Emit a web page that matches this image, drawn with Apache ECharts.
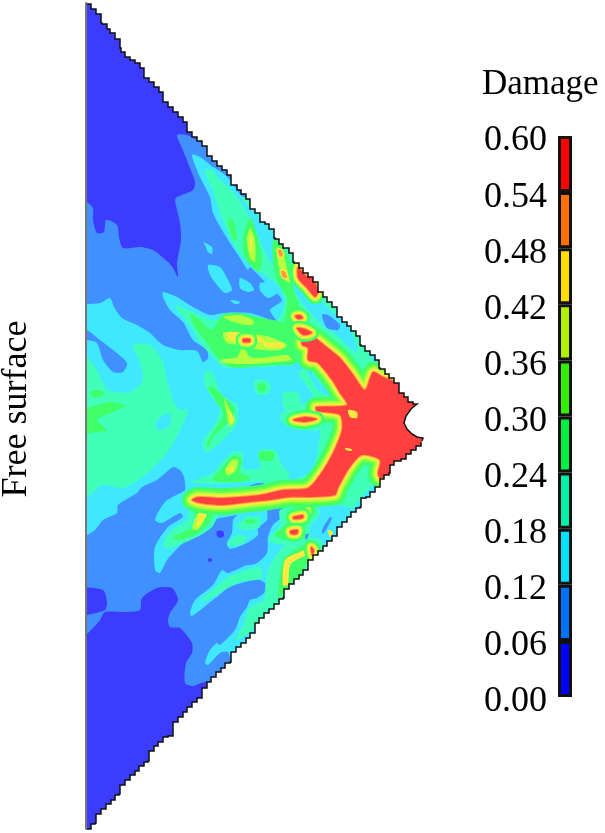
<!DOCTYPE html>
<html>
<head>
<meta charset="utf-8">
<title>Damage contour</title>
<script src="https://cdn.jsdelivr.net/npm/echarts@6/dist/echarts.min.js"></script>
<style>
html, body { margin: 0; padding: 0; background: #fff; }
#chart { width: 605px; height: 833px; }
</style>
</head>
<body>
<div id="chart"></div>
<script>
// legend levels, 0.00 - 0.60 in steps of 0.06
const damageStep = 0.06;
const legendColors = ['#0000ff', '#0070ff', '#00e0ff', '#00f0a8', '#00f040', '#30f000', '#b0f000', '#ffdd00', '#ff7000', '#ff0000'];
const fieldColors = ['#3c3cff', '#4090ff', '#40e8ff', '#40ffb8', '#40ff68', '#70ff40', '#b4ff40', '#ffe840', '#ff9840', '#ff4040'];

// mesh boundary, stair corners
const edgeUpper = [[87,4],[91,4],[96,9],[101,14],[102,23],[107,24],[110,29],[115,33],[120,39],[121,48],[125,52],[130,57],[135,60],[140,63],[144,68],[144,77],[149,78],[154,82],[159,87],[163,92],[163,102],[168,102],[173,107],[178,112],[183,117],[187,122],[187,131],[192,132],[197,137],[202,141],[207,146],[207,155],[212,156],[217,161],[222,166],[227,170],[231,175],[231,184],[237,185],[241,190],[246,194],[250,199],[250,208],[255,209],[260,213],[265,222],[269,224],[274,229],[275,238],[279,239],[283,244],[289,248],[293,253],[294,262],[299,263],[303,268],[308,273],[313,277],[318,282],[318,292],[323,292],[327,297],[332,302],[337,307],[337,317],[342,317],[347,322],[351,326],[356,331],[360,336],[361,345],[365,346],[370,351],[375,355],[379,360],[380,368],[385,369],[389,374],[394,378],[399,383],[399,393],[404,393],[408,397],[413,402],[417,404]];
const notchEdge = [[411,409],[406,416],[404,423],[407,429],[412,434],[417,437],[423,438],[422,441]];
const edgeLower = [[421,442],[416,446],[411,450],[406,454],[401,459],[394,461],[390,465],[389,473],[384,475],[380,479],[375,487],[370,492],[366,497],[361,498],[360,507],[356,508],[351,512],[347,517],[342,522],[337,527],[337,535],[332,536],[327,541],[323,546],[318,551],[313,555],[308,560],[308,569],[303,570],[299,575],[294,579],[289,584],[284,589],[283,598],[279,599],[274,604],[269,609],[264,613],[259,618],[255,623],[255,632],[250,633],[246,638],[241,643],[236,647],[231,652],[230,662],[225,663],[221,668],[216,672],[211,677],[207,682],[202,688],[202,697],[197,698],[192,702],[187,707],[183,712],[178,717],[173,722],[173,732],[168,736],[163,737],[158,742],[154,746],[149,751],[148,761],[144,762],[139,766],[135,771],[130,775],[125,780],[120,785],[119,794],[115,795],[111,800],[106,804],[101,809],[96,814],[95,823],[91,824],[91,829],[87,829]];

// contour regions, in mesh coordinates
const regionsBand1 = [
  [[80,0],[290,0],[290,226],[270,228],[262,222],[255,212],[245,203],[237,190],[227,177],[213,167],[200,157],[192,155],[200,177],[210,197],[213,213],[222,230],[230,243],[240,258],[248,270],[250,267],[263,280],[282,300],[270,310],[277,322],[263,317],[250,313],[223,313],[210,315],[193,307],[177,297],[163,292],[163,297],[170,310],[183,322],[193,340],[207,350],[208,358],[203,362],[197,351],[180,350],[163,345],[150,333],[137,325],[122,318],[114,307],[110,298],[100,303],[87,304],[80,304]],
  [[80,330],[87,330],[100,340],[113,350],[127,363],[123,372],[113,372],[103,360],[97,343],[87,340],[80,340]],
  [[80,537],[87,535],[95,530],[103,520],[117,513],[118,505],[137,493],[142,487],[157,480],[173,467],[180,470],[184,477],[185,490],[180,493],[165,502],[155,520],[162,523],[180,513],[183,517],[168,527],[155,547],[155,570],[160,573],[167,560],[183,543],[200,530],[212,520],[227,517],[237,515],[233,520],[232,533],[227,543],[230,549],[247,543],[258,535],[258,528],[267,520],[268,508],[287,507],[288,512],[273,525],[268,537],[267,553],[257,563],[250,565],[247,565],[228,573],[222,570],[213,585],[195,600],[190,613],[192,616],[213,600],[230,587],[253,580],[260,580],[267,585],[265,592],[257,598],[250,600],[247,607],[240,617],[235,630],[220,645],[217,643],[210,650],[205,663],[208,665],[220,653],[228,652],[232,670],[200,720],[80,835]],
  [[213,322],[217,325],[215,327]]
];
const regionsBand0 = [
  [[80,0],[215,0],[215,150],[207,147],[200,142],[187,135],[177,135],[182,148],[188,163],[195,182],[193,190],[177,197],[175,200],[180,223],[181,240],[177,263],[178,277],[173,268],[168,262],[153,250],[140,247],[123,248],[119,237],[117,225],[106,220],[104,232],[97,233],[93,220],[93,208],[87,202],[80,200]],
  [[80,589],[103,590],[107,602],[105,610],[87,615],[80,616]],
  [[80,640],[88,633],[95,626],[100,620],[105,612],[125,612],[140,610],[142,598],[157,588],[172,588],[178,600],[170,613],[168,620],[170,627],[180,628],[192,643],[192,653],[186,663],[185,683],[193,686],[207,682],[220,700],[220,835],[80,835]],
  [[217,531],[223,531],[224,536],[220,538],[217,536]],
  [[208,559],[211,558],[212,561],[209,562]]
];
const blobsBand2 = [
  [[203,242],[212,247],[212,254],[208,252],[205,245]],
  [[208,265],[220,267],[227,278],[232,290],[225,293],[217,285],[210,275]],
  [[240,278],[250,283],[254,290],[248,292],[240,288]],
  [[230,300],[238,301],[240,303],[235,304]],
  [[260,283],[270,283],[277,293],[268,298],[260,290]]
];
const regionsBand3 = [
  [[80,357],[87,357],[97,370],[108,390],[130,392],[143,380],[139,360],[133,345],[150,345],[162,360],[167,380],[173,400],[180,410],[188,410],[180,430],[167,453],[143,477],[123,488],[103,485],[87,497],[80,497]],
  [[205,170],[213,190],[220,213],[227,230],[237,250],[252,265],[265,275],[278,285],[285,300],[282,312],[275,322],[250,322],[225,318],[212,320],[193,312],[175,305],[180,313],[193,330],[200,343],[213,357],[223,367],[250,367],[270,367],[287,363],[305,363],[315,377],[327,390],[333,400],[345,420],[380,380],[300,240],[260,205],[240,195],[225,175]],
  [[205,372],[212,372],[222,395],[237,405],[237,423],[223,440],[207,452],[202,443],[213,427],[220,410],[210,395],[205,385]],
  [[250,503],[270,503],[293,502],[333,500],[347,477],[360,460],[373,458],[382,475],[373,485],[362,497],[353,508],[340,505],[325,505],[300,507],[283,507],[260,510]],
  [[163,545],[170,548],[197,537],[212,527],[220,512],[225,507],[193,506],[187,520],[170,532]],
  [[192,482],[213,473],[222,462],[233,452],[243,453],[243,468],[260,468],[258,452],[275,450],[282,465],[290,475],[285,482],[250,482],[213,484]],
  [[200,602],[227,578],[247,570],[260,567],[262,578],[237,583],[213,597]],
  [[236,640],[245,622],[248,610],[258,603],[272,600],[262,618],[250,632]],
  [[237,527],[247,517],[260,517],[260,527],[247,530]],
  [[227,545],[237,535],[247,538],[240,545]],
  [[280,510],[313,502],[320,513],[310,527],[310,540],[285,545],[268,540],[280,525]],
  [[266,610],[268,570],[285,545],[298,543],[318,538],[325,550],[300,585],[285,600]],
  [[260,488],[275,477],[293,480],[312,470],[318,450],[320,425],[315,405],[345,410],[345,450],[320,490],[270,495]],
  [[280,415],[300,405],[325,405],[325,428],[300,430],[285,425]],
  [[298,373],[305,370],[318,390],[333,400],[330,405],[317,403],[310,390]],
  [[254,381],[268,381],[270,392],[258,395]],
  [[283,393],[298,393],[300,408],[285,410]]
];
const zonesBand2 = [
  [[213,167],[227,177],[237,190],[245,203],[255,212],[262,222],[270,228],[278,240],[281,262],[275,267],[268,258],[262,245],[255,228],[247,213],[238,198],[228,187],[217,177]],
  [[293,285],[303,288],[317,298],[330,310],[345,320],[353,335],[357,352],[350,348],[337,335],[322,325],[308,310],[297,295]],
  [[228,345],[238,345],[238,353],[230,355]],
  [[155,425],[163,415],[170,414],[170,425],[160,430]]
];
const spotsBand1 = [
  [[322,315],[328,315],[340,325],[338,330],[327,328]],
  [[279,332],[282,333],[281,335]],
  [[330,517],[332,518],[326,530],[323,534],[322,530]],
  [[305,535],[309,534],[306,540]],
  [[247,487],[258,483],[265,484],[258,488]]
];
const regionsBand4 = [
  [[87,408],[110,402],[125,406],[113,412],[97,420],[107,430],[90,433],[80,434],[80,408]],
  [[90,392],[100,390],[104,394],[95,398]],
  [[228,220],[233,220],[237,240],[233,240]],
  [[250,217],[257,235],[262,262],[258,272],[245,258],[243,240]],
  [[190,313],[200,320],[212,330],[222,315],[240,313],[262,318],[290,325],[292,345],[298,360],[292,365],[270,365],[235,368],[222,362],[212,350],[205,340],[195,327]],
  [[273,240],[280,243],[288,257],[293,273],[293,287],[297,300],[305,320],[315,335],[292,345],[285,325],[287,298],[278,283],[273,263]],
  [[172,538],[195,525],[195,513],[212,510],[210,522],[195,535],[177,540]],
  [[208,388],[213,387],[227,400],[235,410],[230,420],[213,437],[208,448],[207,443],[217,427],[223,417],[222,410]],
  [[213,480],[222,468],[235,455],[242,460],[240,472],[250,478],[240,482]],
  [[260,452],[273,452],[273,460],[260,460]],
  [[258,384],[265,384],[266,390],[259,391]],
  [[290,510],[313,505],[315,513],[305,525],[305,537],[287,540],[275,535],[287,523]],
  [[278,598],[283,560],[300,547],[313,543],[317,553],[310,560],[297,580],[283,593]],
  [[245,520],[255,520],[255,523],[245,523]]
];
const regionsBand6 = [
  [[250,228],[255,240],[255,262],[250,258],[247,240]],
  [[223,317],[240,315],[253,320],[253,325],[237,323]],
  [[223,333],[240,332],[260,335],[270,337],[287,345],[280,350],[263,350],[250,348],[240,345],[227,343]],
  [[220,360],[237,357],[243,347],[250,357],[260,358],[287,355],[292,360],[277,362],[250,364],[223,363]],
  [[277,247],[283,253],[289,277],[290,283],[283,278],[278,263]],
  [[192,528],[200,510],[208,510],[203,523],[197,530]],
  [[225,470],[232,460],[238,460],[236,470],[228,476]],
  [[224,398],[230,410],[235,420],[230,427],[227,415]],
  [[295,512],[310,507],[311,513],[300,523],[290,525]],
  [[285,530],[300,528],[300,537],[287,537]]
];
const regionsBand7 = [
  [[250,237],[252,237],[252,250],[250,250]],
  [[228,333],[243,333],[260,337],[265,342],[283,343],[283,347],[267,347],[260,342],[243,343],[230,340]],
  [[200,512],[207,512],[202,522],[197,527]],
  [[228,470],[233,466],[233,472]],
  [[283,585],[285,560],[300,552],[312,548],[313,553],[300,558],[290,565],[288,585]],
  [[230,412],[233,418],[231,424]],
  [[328,530],[333,532],[330,537]]
];
const hotCrack = [
  [[302,338],[313,337],[318,340],[328,348],[340,358],[352,373],[365,390],[373,372],[383,377],[440,400],[440,440],[395,475],[380,478],[378,473],[380,460],[362,455],[350,467],[338,488],[335,495],[310,497],[290,497],[270,500],[250,502],[223,505],[200,503],[192,500],[198,497],[223,498],[260,495],[283,490],[308,488],[322,472],[333,453],[342,430],[340,415],[317,411],[316,407],[347,405],[340,393],[332,380],[318,363],[308,360],[308,348],[302,345]]
];
const hotSpots = [
  [[298,267],[305,275],[313,278],[318,292],[315,297],[307,288],[298,278]],
  [[293,420],[305,417],[317,419],[305,422]],
  [[295,316],[300,315],[303,318],[298,319]],
  [[297,328],[305,329],[312,333],[303,335]],
  [[243,339],[250,339],[250,342],[243,342]],
  [[293,517],[303,515],[303,518],[294,519]],
  [[290,531],[298,530],[297,534],[291,534]],
  [[311,547],[314,550],[312,555]]
];
const warmSpots = [
  [[278,250],[281,250],[283,255],[280,257]],
  [[281,271],[285,272],[287,278],[283,277]]
];
// cooler islands left inside the red crack
const islandsBand7 = [
  [[348,410],[357,412],[357,418],[350,417]],
  [[345,448],[352,449],[351,451],[346,450]]
];

const polygons = [];
function addRegions(regions, level, halo) {
  regions.forEach(points => polygons.push({points: points, level: level, halo: halo}));
}
addRegions(regionsBand1, 1);
addRegions(regionsBand0, 0);
addRegions(blobsBand2, 2);
addRegions(regionsBand3, 3);
addRegions(zonesBand2, 2);
addRegions(spotsBand1, 1);
addRegions(regionsBand4, 4);
addRegions(regionsBand6, 6);
addRegions(regionsBand7, 7);
addRegions(hotCrack, 9, [[20, 4], [14, 5], [10, 6], [6, 7], [2, 8]]);
addRegions(hotSpots, 9, [[14, 4], [9, 6], [6, 7], [2, 8]]);
addRegions(warmSpots, 8, [[3, 7]]);
addRegions(islandsBand7, 7);

function stairs(corners) {
  const out = [corners[0]];
  for (let i = 1; i < corners.length; i++) {
    out.push([corners[i - 1][0], corners[i][1]]);
    out.push(corners[i]);
  }
  return out;
}
const stairUpper = stairs(edgeUpper);
const stairLower = stairs(edgeLower);
const meshOutline = stairUpper.concat(notchEdge, stairLower);

const chart = echarts.init(document.getElementById('chart'), null, {renderer: 'canvas'});

function fieldItem(params, api) {
  const outline = meshOutline.map(p => api.coord(p));
  const clip = {type: 'polygon', shape: {points: outline}};
  const item = polygons[api.value(0)];
  const children = [];
  const points = item.points.map(p => api.coord(p));
  (item.halo || []).forEach(h => {
    children.push({
      type: 'polygon',
      shape: {points: points, smooth: 0.25},
      style: {fill: fieldColors[h[1]], stroke: fieldColors[h[1]], lineWidth: h[0], lineJoin: 'round'}
    });
  });
  children.push({
    type: 'polygon',
    shape: {points: points, smooth: 0.25},
    style: {fill: fieldColors[item.level]}
  });
  return {type: 'group', clipPath: clip, children: children};
}

chart.setOption({
  animation: false,
  backgroundColor: '#fff',
  title: {
    text: 'Damage',
    left: 482,
    top: 67,
    padding: 0,
    textStyle: {fontFamily: 'Liberation Serif', fontSize: 35, fontWeight: 'normal', color: '#000'}
  },
  graphic: [{
    type: 'text',
    x: 17,
    y: 409,
    rotation: Math.PI / 2,
    style: {text: 'Free surface', fontFamily: 'Liberation Serif', fontSize: 36, fill: '#000', align: 'center', verticalAlign: 'middle'}
  }],
  grid: [
    {left: 86, top: 3, width: 340, height: 826},
    {left: 558, top: 136, width: 14, height: 561},
    // tick labels sit a little below their bar divisions
    {left: 558, top: 141, width: 14, height: 561}
  ],
  xAxis: [
    {gridIndex: 0, type: 'value', min: 86, max: 426, show: false},
    {gridIndex: 1, type: 'category', data: ['Damage'], show: false},
    {gridIndex: 2, type: 'category', data: ['Damage'], show: false}
  ],
  yAxis: [
    {
      gridIndex: 0, type: 'value', inverse: true, min: 3, max: 829, position: 'left',
      axisLine: {show: true, onZero: false, lineStyle: {color: '#777', width: 2}},
      axisTick: {show: false}, axisLabel: {show: false}, splitLine: {show: false}
    },
    {
      gridIndex: 1, type: 'value', min: 0, max: 0.6, interval: damageStep, show: false
    },
    {
      gridIndex: 2, type: 'value', min: 0, max: 0.6, interval: damageStep,
      axisLine: {show: false}, axisTick: {show: false}, splitLine: {show: false},
      axisLabel: {
        margin: 11, color: '#000', fontFamily: 'Liberation Serif', fontSize: 36,
        formatter: v => v.toFixed(2)
      }
    }
  ],
  series: [
    {
      type: 'custom',
      name: 'outline fill',
      xAxisIndex: 0, yAxisIndex: 0, silent: true, clip: false, z: 1,
      data: [[0]],
      renderItem: (params, api) => ({
        type: 'polygon',
        shape: {points: meshOutline.map(p => api.coord(p))},
        style: {fill: fieldColors[2]}
      })
    },
    {
      type: 'custom',
      name: 'field',
      xAxisIndex: 0, yAxisIndex: 0, silent: true, clip: false, z: 2, progressive: 0,
      data: polygons.map((p, i) => [i]),
      renderItem: fieldItem
    },
    {
      type: 'custom',
      name: 'edge',
      xAxisIndex: 0, yAxisIndex: 0, silent: true, clip: false, z: 3,
      data: [[0], [1]],
      renderItem: (params, api) => ({
        type: 'polyline',
        shape: {points: (api.value(0) === 0 ? stairUpper.concat(notchEdge) : stairLower).map(p => api.coord(p))},
        style: {fill: 'none', stroke: '#111', lineWidth: 1.5}
      })
    }
  ].concat(legendColors.map(color => ({
    type: 'bar',
    xAxisIndex: 1, yAxisIndex: 1, stack: 'legend', barWidth: '100%', silent: true,
    data: [damageStep],
    itemStyle: {color: color, borderColor: '#111', borderWidth: 3}
  })))
});
</script>
</body>
</html>
